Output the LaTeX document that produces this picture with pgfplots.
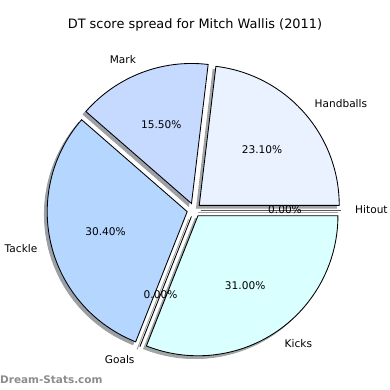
\documentclass[border=0pt]{standalone}
\usepackage{pgfplots}
\pgfplotsset{compat=1.18}
\usepackage{pgfplotstable}
\usepackage{fontspec}
\setmainfont{DejaVu Sans}

\definecolor{c0}{HTML}{EAF1FF}
\definecolor{c1}{HTML}{C6D9FF}
\definecolor{c2}{HTML}{B5D6FF}
\definecolor{c3}{HTML}{C0E0FF}
\definecolor{c4}{HTML}{DAFFFF}
\definecolor{c5}{HTML}{E0E8FF}
\definecolor{wm}{HTML}{8C8C8C}

\pgfplotstableread{
label value
Handballs 23.1
Mark 15.5
Tackle 30.4
Goals 0.0
Kicks 31.0
Hitout 0.0
}\scoretable

\tikzset{lbl/.style={font=\fontsize{8.6}{10}\selectfont, inner sep=0pt}}

% one shadow, one wedge, labels  (#1 start angle, #2 end angle, #3 colour, #4 label, #5 value)
\newcommand\pieshadow[5]{%
  \pgfmathsetmacro\aM{(#1+#2)/2}%
  \pgfmathsetmacro\cx{0.05*cos(\aM)-0.02}%
  \pgfmathsetmacro\cy{0.05*sin(\aM)-0.02}%
  \pgfmathsetmacro\sx{\cx+cos(#1)}%
  \pgfmathsetmacro\sy{\cy+sin(#1)}%
  \edef\tmp{\noexpand\filldraw[fill=#3!30!black!50!white, draw=#3!30!black!50!white, line width=0.7pt]
    (axis cs:\cx,\cy) -- (axis cs:\sx,\sy) arc[start angle=#1, end angle=#2, radius=4cm] -- cycle;}\tmp}
\newcommand\piewedge[5]{%
  \pgfmathsetmacro\aM{(#1+#2)/2}%
  \pgfmathsetmacro\cx{0.05*cos(\aM)}%
  \pgfmathsetmacro\cy{0.05*sin(\aM)}%
  \pgfmathsetmacro\sx{\cx+cos(#1)}%
  \pgfmathsetmacro\sy{\cy+sin(#1)}%
  \edef\tmp{\noexpand\filldraw[fill=#3, draw=black, line width=0.7pt, line join=miter]
    (axis cs:\cx,\cy) -- (axis cs:\sx,\sy) arc[start angle=#1, end angle=#2, radius=4cm] -- cycle;}\tmp}
\newcommand\pielabel[5]{%
  \pgfmathsetmacro\aM{(#1+#2)/2}%
  \pgfmathsetmacro\cx{0.05*cos(\aM)}%
  \pgfmathsetmacro\cy{0.05*sin(\aM)}%
  \pgfmathsetmacro\lx{\cx+1.1*cos(\aM)}%
  \pgfmathsetmacro\ly{\cy+1.1*sin(\aM)}%
  \pgfmathsetmacro\qx{\cx+0.6*cos(\aM)}%
  \pgfmathsetmacro\qy{\cy+0.6*sin(\aM)}%
  \pgfmathparse{cos(\aM)>0}%
  \ifdim\pgfmathresult pt>0.5pt \def\anch{west}\else\def\anch{east}\fi
  \edef\tmp{\noexpand\node[lbl,anchor=\anch] at (axis cs:\lx,\ly) {#4};
    \noexpand\node[lbl] at (axis cs:\qx,\qy) {\noexpand\pgfmathprintnumber[fixed,fixed zerofill,precision=2,assume math mode=true]{#5}\noexpand\%};}\tmp}

\begin{document}
\begin{tikzpicture}
\pgfplotstablegetrowsof{\scoretable}
\pgfmathtruncatemacro\nrows{\pgfplotsretval-1}
\gdef\piecmds{}\gdef\cum{0}
\foreach \i in {0,...,\nrows}{
  \pgfplotstablegetelem{\i}{value}\of\scoretable \let\v\pgfplotsretval
  \pgfplotstablegetelem{\i}{label}\of\scoretable \let\lab\pgfplotsretval
  \pgfmathsetmacro\aS{3.6*\cum}
  \pgfmathsetmacro\newcum{\cum+\v}
  \pgfmathsetmacro\aE{3.6*\newcum}
  \xdef\cum{\newcum}
  \xdef\piecmds{\unexpanded\expandafter{\piecmds}\noexpand\pieitem{\aS}{\aE}{c\i}{\lab}{\v}}
}
\begin{axis}[
  width=11.1428cm, height=11.1428cm, scale only axis,
  xmin=-1.3857, xmax=1.4, ymin=-1.2857, ymax=1.5,
  hide axis, clip=false,
]
\let\pieitem\pieshadow \piecmds
\let\pieitem\piewedge \piecmds
\let\pieitem\pielabel \piecmds
\node[font=\fontsize{10.5}{12}\selectfont] at (axis cs:0.007,1.321) {DT score spread for Mitch Wallis (2011)};
\node[anchor=west, inner sep=0pt, text=wm, font=\fontsize{8.5}{10}\selectfont\bfseries] at (axis cs:-1.3857,-1.214) {Dream-Stats.com};
\end{axis}
\pgfresetboundingbox
\path (current axis.south west) rectangle (current axis.north east);
\end{tikzpicture}
\end{document}
